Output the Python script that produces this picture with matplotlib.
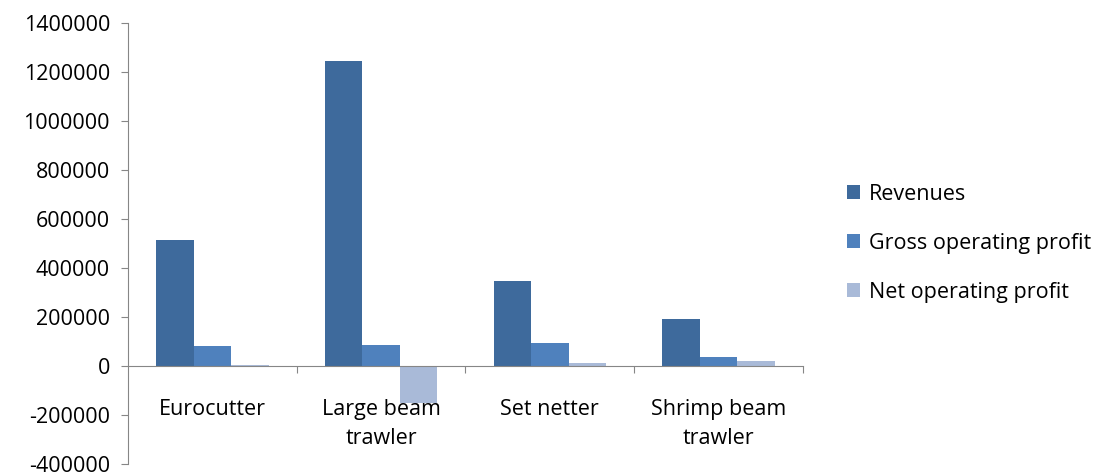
import numpy as np
import matplotlib.pyplot as plt
from matplotlib.ticker import FuncFormatter

plt.rcParams['font.family'] = ['Open Sans', 'DejaVu Sans']

categories = ["Eurocutter", "Large beam\ntrawler", "Set netter", "Shrimp beam\ntrawler"]
series = ["Revenues", "Gross operating profit", "Net operating profit"]
revenues = [514000, 1245000, 345000, 192000]
gross_profit = [80000, 84000, 94000, 37000]
net_profit = [6000, -150000, 12000, 22000]
colors = ["#3E6A9C", "#4F81BD", "#A9BAD8"]

values = [revenues, gross_profit, net_profit]

fig = plt.figure(figsize=(11.09, 4.74), dpi=100)
ax = fig.add_axes([0.1154, 0.0211, 0.724 - 0.1154, 0.9515 - 0.0211])

x = np.arange(len(categories))
w = 1 / 4.5
handles = []
for j, (name, vals) in enumerate(zip(series, values)):
    b = ax.bar(x + (j - 1) * w, vals, width=w, color=colors[j], label=name)
    handles.append(b)

ax.set_xlim(-0.5, len(categories) - 0.5)
ax.set_ylim(-400000, 1400000)
ax.set_yticks(np.arange(-400000, 1400001, 200000))
ax.yaxis.set_major_formatter(FuncFormatter(lambda v, p: "%d" % v))

gray = "#868686"
for s in ["top", "right"]:
    ax.spines[s].set_visible(False)
ax.spines["left"].set_color(gray)
ax.spines["bottom"].set_color(gray)
ax.spines["bottom"].set_position(("data", 0))

fs = 15.5
ax.tick_params(axis="y", direction="out", length=5, color=gray, labelsize=fs, pad=8)
ax.set_xticks(np.arange(0.5, len(categories), 1))
ax.set_xticklabels([])
ax.set_xticks(x, minor=True)
ax.set_xticklabels(categories, minor=True, fontsize=fs, linespacing=1.45)
ax.tick_params(axis="x", which="major", direction="out", length=5, color=gray)
ax.tick_params(axis="x", which="minor", length=0, pad=24)

fig.legend(handles=handles, labels=series, loc="center left",
           bbox_to_anchor=(0.756, 0.487), frameon=False, fontsize=fs,
           handlelength=0.6, handleheight=0.6, handletextpad=0.4,
           labelspacing=1.3, borderaxespad=0)

fig.savefig("out.png", dpi=100)
